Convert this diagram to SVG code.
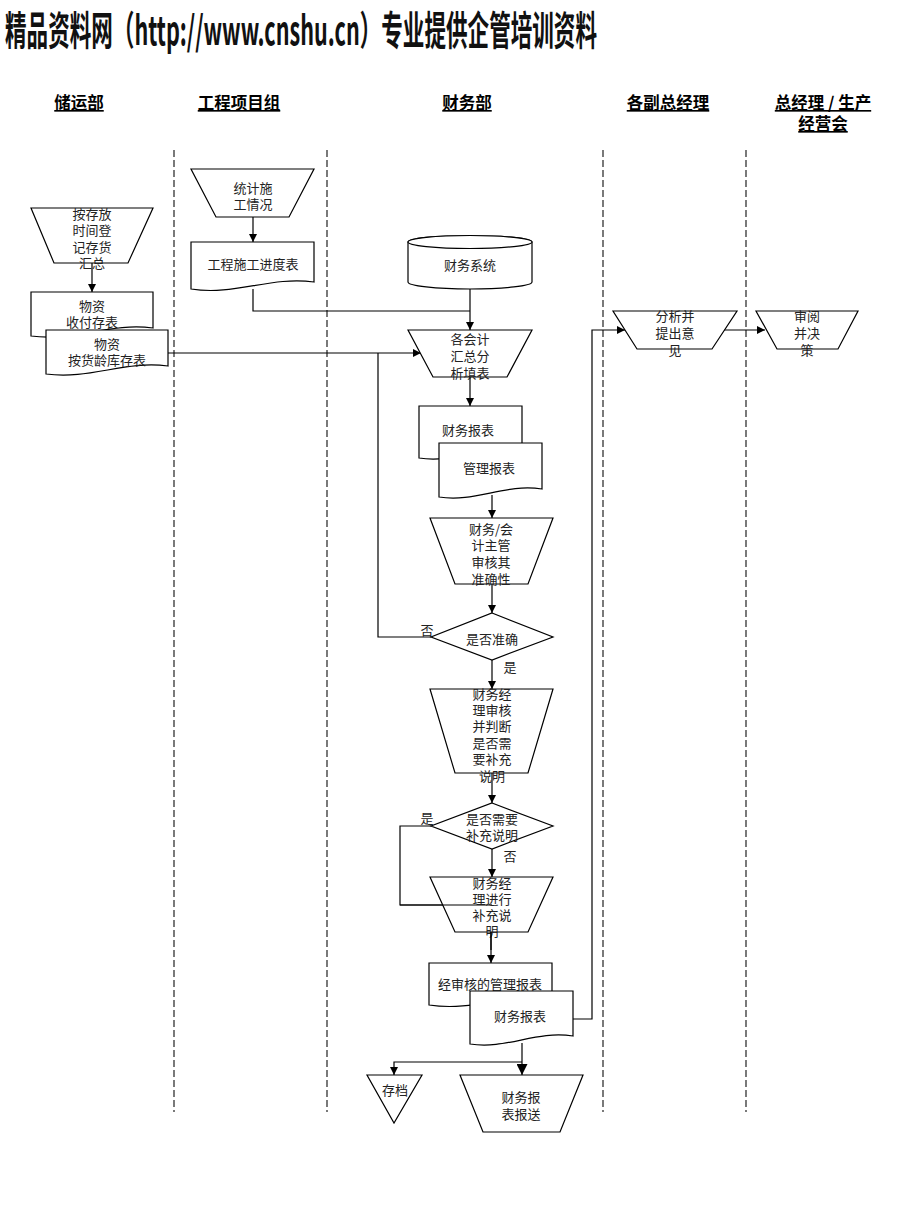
<svg xmlns="http://www.w3.org/2000/svg" width="920" height="1227" viewBox="0 0 920 1227">
<defs>
<marker id="ah" viewBox="0 0 10 10" refX="10" refY="5" markerWidth="8" markerHeight="8" markerUnits="userSpaceOnUse" orient="auto"><path d="M0,0 L10,5 L0,10 Z" fill="#000"/></marker>
<marker id="ahb" viewBox="0 0 10 10" refX="10" refY="5" markerWidth="11" markerHeight="11" markerUnits="userSpaceOnUse" orient="auto"><path d="M0,0 L10,5 L0,10 Z" fill="#000"/></marker>
</defs>
<style>
.s{fill:#fff;stroke:#000;stroke-width:1.2}
.t{font-family:"Noto Sans CJK SC","Liberation Serif",serif;font-size:13px;fill:#222;text-anchor:middle;dominant-baseline:central}
.h{font-family:"Noto Sans CJK SC","Liberation Sans",sans-serif;font-size:16.5px;font-weight:bold;fill:#000;text-anchor:middle;text-decoration:underline}
.c{fill:none;stroke:#000;stroke-width:1.2}
.d{fill:none;stroke:#333;stroke-width:1.3;stroke-dasharray:7 3}
</style>
<rect width="920" height="1227" fill="#fff"/>
<text x="5" y="45" font-family="'Noto Sans CJK SC','Liberation Sans',sans-serif" font-size="40" font-weight="bold" fill="#111" textLength="592" lengthAdjust="spacingAndGlyphs">精品资料网（http://www.cnshu.cn）专业提供企管培训资料</text>

<g id="headers">
<text class="h" x="79" y="109">储运部</text>
<text class="h" x="239" y="109">工程项目组</text>
<text class="h" x="467" y="109">财务部</text>
<text class="h" x="668" y="109">各副总经理</text>
<text class="h" x="823" y="109">总经理 / 生产</text>
<text class="h" x="823" y="130">经营会</text>
</g>

<g id="lanes">
<line class="d" x1="174" y1="150" x2="174" y2="1112"/>
<line class="d" x1="327" y1="150" x2="327" y2="1112"/>
<line class="d" x1="603" y1="150" x2="603" y2="1112"/>
<line class="d" x1="746" y1="150" x2="746" y2="1112"/>
</g>

<g id="connectors">
<line class="c" x1="92" y1="263" x2="92" y2="292" marker-end="url(#ah)"/>
<line class="c" x1="253" y1="217" x2="253" y2="242" marker-end="url(#ah)"/>
<polyline class="c" points="253,289 253,311 470,311"/>
<line class="c" x1="470" y1="282" x2="470" y2="330" marker-end="url(#ah)"/>
<line class="c" x1="168" y1="353" x2="421" y2="353" marker-end="url(#ah)"/>
<polyline class="c" points="431,637 378,637 378,353"/>
<line class="c" x1="470" y1="377" x2="470" y2="406" marker-end="url(#ah)"/>
<line class="c" x1="492" y1="495" x2="492" y2="518" marker-end="url(#ah)"/>
<line class="c" x1="492" y1="584" x2="492" y2="613" marker-end="url(#ah)"/>
<line class="c" x1="492" y1="660" x2="492" y2="689" marker-end="url(#ah)"/>
<line class="c" x1="492" y1="773" x2="492" y2="803" marker-end="url(#ah)"/>
<line class="c" x1="492" y1="849" x2="492" y2="877" marker-end="url(#ah)"/>
<polyline class="c" points="431,826 400,826 400,905 492,905"/>
<line class="c" x1="491" y1="932" x2="491" y2="963" marker-end="url(#ah)"/>
<polyline class="c" points="573,1019 592,1019 592,330 625,330" marker-end="url(#ah)"/>
<line class="c" x1="723" y1="330" x2="765" y2="330" marker-end="url(#ah)"/>
<line class="c" x1="522" y1="1043" x2="522" y2="1075" marker-end="url(#ahb)"/>
<polyline class="c" points="522,1062 394,1062 394,1075" marker-end="url(#ah)"/>
<text class="t" x="427" y="629">否</text>
<text class="t" x="510" y="666">是</text>
<text class="t" x="427" y="817">是</text>
<text class="t" x="510" y="855">否</text>
</g>

<g id="n1">
<path class="s" d="M31,208 H153 L128,263 H54 Z"/>
<text class="t" x="92" y="213">按存放</text>
<text class="t" x="92" y="229">时间登</text>
<text class="t" x="92" y="246">记存货</text>
<text class="t" x="92" y="262">汇总</text>
</g>
<g id="n2">
<path class="s" d="M31,292 H153 V328 C110,322 75,342 31,336 Z"/>
<text class="t" x="92" y="305">物资</text>
<text class="t" x="92" y="321">收付存表</text>
</g>
<g id="n3">
<path class="s" d="M46,330 H168 V366 C125,360 90,380 46,374 Z"/>
<text class="t" x="107" y="343">物资</text>
<text class="t" x="107" y="359">按货龄库存表</text>
</g>
<g id="n4">
<path class="s" d="M191,169 H314 L289,217 H216 Z"/>
<text class="t" x="253" y="187">统计施</text>
<text class="t" x="253" y="203">工情况</text>
</g>
<g id="n5">
<path class="s" d="M191,242 H314 V282 C270,276 235,296 191,289 Z"/>
<text class="t" x="253" y="263">工程施工进度表</text>
</g>
<g id="n6">
<path class="s" d="M408,242 V282 A62,7 0 0 0 532,282 V242 A62,6.5 0 0 0 408,242 Z"/>
<ellipse class="s" cx="470" cy="242" rx="62" ry="6.5"/>
<text class="t" x="470" y="264">财务系统</text>
</g>
<g id="n7">
<path class="s" d="M408,330 H532 L507,377 H433 Z"/>
<text class="t" x="470" y="338">各会计</text>
<text class="t" x="470" y="355">汇总分</text>
<text class="t" x="470" y="372">析填表</text>
</g>
<g id="n8">
<path class="s" d="M419,406 H522 V450 C485,444 455,464 419,458 Z"/>
<text class="t" x="468" y="429">财务报表</text>
</g>
<g id="n9">
<path class="s" d="M439,443 H542 V489 C505,483 475,503 439,497 Z"/>
<text class="t" x="489" y="467">管理报表</text>
</g>
<g id="n10">
<path class="s" d="M430,518 H553 L528,584 H455 Z"/>
<text class="t" x="491" y="528">财务/会</text>
<text class="t" x="491" y="544">计主管</text>
<text class="t" x="491" y="561">审核其</text>
<text class="t" x="491" y="578">准确性</text>
</g>
<g id="n11">
<path class="s" d="M492,613 L553,637 L492,660 L431,637 Z"/>
<text class="t" x="492" y="638">是否准确</text>
</g>
<g id="n12">
<path class="s" d="M430,689 H553 L528,773 H455 Z"/>
<text class="t" x="492" y="693">财务经</text>
<text class="t" x="492" y="709">理审核</text>
<text class="t" x="492" y="725">并判断</text>
<text class="t" x="492" y="742">是否需</text>
<text class="t" x="492" y="758">要补充</text>
<text class="t" x="492" y="775">说明</text>
</g>
<g id="n13">
<path class="s" d="M492,803 L553,826 L492,849 L431,826 Z"/>
<text class="t" x="492" y="818">是否需要</text>
<text class="t" x="492" y="834">补充说明</text>
</g>
<g id="n14">
<path class="s" d="M430,877 H553 L528,932 H455 Z"/>
<polyline class="c" points="400,905 492,905"/>
<text class="t" x="492" y="882">财务经</text>
<text class="t" x="492" y="898">理进行</text>
<text class="t" x="492" y="914">补充说</text>
<text class="t" x="492" y="930">明</text>
<line class="c" x1="491" y1="932" x2="491" y2="950"/>
</g>
<g id="n15">
<path class="s" d="M429,963 H552 V998 C510,992 475,1012 429,1005 Z"/>
<text class="t" x="490" y="983">经审核的管理报表</text>
</g>
<g id="n16">
<path class="s" d="M470,991 H573 V1036 C536,1030 506,1050 470,1044 Z"/>
<text class="t" x="520" y="1015">财务报表</text>
</g>
<g id="n17">
<path class="s" d="M367,1075 H422 L394,1123 Z"/>
<text class="t" x="395" y="1089">存档</text>
</g>
<g id="n18">
<path class="s" d="M460,1075 H583 L560,1132 H483 Z"/>
<text class="t" x="521" y="1096">财务报</text>
<text class="t" x="521" y="1113">表报送</text>
</g>
<g id="n19">
<path class="s" d="M613,311 H737 L712,349 H637 Z"/>
<text class="t" x="675" y="315">分析并</text>
<text class="t" x="675" y="332">提出意</text>
<text class="t" x="675" y="349">见</text>
</g>
<g id="n20">
<path class="s" d="M756,311 H858 L838,349 H777 Z"/>
<text class="t" x="807" y="315">审阅</text>
<text class="t" x="807" y="332">并决</text>
<text class="t" x="807" y="349">策</text>
</g>
</svg>
